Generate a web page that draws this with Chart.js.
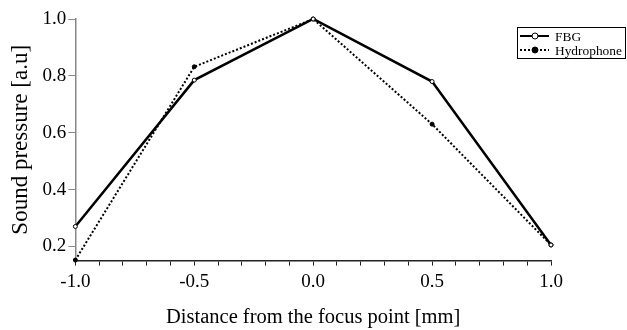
<!DOCTYPE html>
<html>
<head>
<meta charset="utf-8">
<script src="https://cdn.jsdelivr.net/npm/chart.js@4"></script>
<style>
  html, body { margin: 0; padding: 0; background: #fff; }
  #wrap { width: 627px; height: 330px; }
</style>
</head>
<body>
<div id="wrap"><canvas id="pressureChart" width="627" height="330"></canvas></div>
<script>
// Positions along the beam axis [mm]
const distances = [-1.0, -0.5, 0.0, 0.5, 1.0];
// Normalised sound pressure
const fbgValues = [0.27, 0.785, 1.0, 0.78, 0.205];
const hydrophoneValues = [0.152, 0.832, 1.0, 0.63, 0.205];
const yTicks = [0.2, 0.4, 0.6, 0.8, 1.0];
const xLabels = [-1.0, -0.5, 0.0, 0.5, 1.0];

const serif = 'Liberation Serif';

// Boxed legend in the top right corner, drawn from the dataset styles
const boxLegend = {
    id: 'boxLegend',
    afterDraw(chart) {
        const ctx = chart.ctx;
        const x = 517, y = 27, w = 109, h = 32;
        ctx.save();
        ctx.fillStyle = '#fff';
        ctx.fillRect(x, y, w, h);
        ctx.strokeStyle = '#000';
        ctx.lineWidth = 1;
        ctx.strokeRect(x + 0.5, y + 0.5, w - 1, h - 1);
        ctx.font = '13.4px "' + serif + '"';
        ctx.textBaseline = 'middle';
        chart.data.datasets.forEach((ds, i) => {
            const ly = y + 9 + i * 14;
            ctx.beginPath();
            ctx.setLineDash(ds.borderDash || []);
            ctx.lineWidth = 2;
            ctx.strokeStyle = '#000';
            ctx.moveTo(x + 3, ly);
            ctx.lineTo(x + 32, ly);
            ctx.stroke();
            ctx.setLineDash([]);
            ctx.beginPath();
            ctx.arc(x + 18, ly, 3, 0, Math.PI * 2);
            ctx.fillStyle = ds.pointBackgroundColor;
            ctx.fill();
            ctx.lineWidth = 1;
            ctx.stroke();
            ctx.fillStyle = '#000';
            ctx.fillText(ds.label, x + 38, ly + 1);
        });
        ctx.restore();
    }
};

const ctx = document.getElementById('pressureChart').getContext('2d');
new Chart(ctx, {
    type: 'line',
    data: {
        datasets: [
            {
                label: 'FBG',
                data: distances.map((d, i) => ({ x: d, y: fbgValues[i] })),
                borderColor: '#000',
                borderWidth: 2.5,
                pointRadius: 2,
                pointBorderWidth: 1,
                pointBackgroundColor: '#fff',
                pointBorderColor: '#000',
                tension: 0
            },
            {
                label: 'Hydrophone',
                data: distances.map((d, i) => ({ x: d, y: hydrophoneValues[i] })),
                borderColor: '#000',
                borderWidth: 2,
                borderDash: [2, 2],
                pointRadius: 2,
                pointBorderWidth: 1,
                pointBackgroundColor: '#000',
                pointBorderColor: '#000',
                tension: 0
            }
        ]
    },
    options: {
        responsive: false,
        animation: false,
        clip: false,
        layout: { padding: { left: 7, top: 19, right: 76, bottom: 0 } },
        plugins: {
            legend: { display: false },
            tooltip: { enabled: false }
        },
        scales: {
            x: {
                type: 'linear',
                min: -1.0,
                max: 1.0,
                border: { color: '#222', width: 1.5 },
                grid: { drawOnChartArea: false, drawTicks: true, tickLength: 5, color: '#222' },
                ticks: {
                    stepSize: 0.1,
                    autoSkip: false,
                    maxRotation: 0,
                    padding: 5,
                    color: '#000',
                    font: { family: serif, size: 19 },
                    callback: v => {
                        const hit = xLabels.find(l => Math.abs(l - v) < 1e-6);
                        return hit === undefined ? '' : hit.toFixed(1);
                    }
                },
                title: {
                    display: true,
                    text: 'Distance from the focus point [mm]',
                    color: '#000',
                    font: { family: serif, size: 20.5 },
                    padding: { top: 7, bottom: 0 }
                }
            },
            y: {
                min: 0.15,
                max: 1.0,
                border: { color: '#888', width: 1.5 },
                grid: { drawOnChartArea: false, drawTicks: true, tickLength: 7, color: '#888' },
                afterBuildTicks: axis => {
                    axis.ticks = yTicks.map(v => ({ value: v }));
                },
                ticks: {
                    padding: 2,
                    color: '#000',
                    font: { family: serif, size: 19 },
                    callback: v => v.toFixed(1)
                },
                title: {
                    display: true,
                    text: 'Sound pressure [a.u]',
                    color: '#000',
                    font: { family: serif, size: 23 },
                    padding: { top: 0, bottom: 6 }
                }
            }
        }
    },
    plugins: [boxLegend]
});
</script>
</body>
</html>
